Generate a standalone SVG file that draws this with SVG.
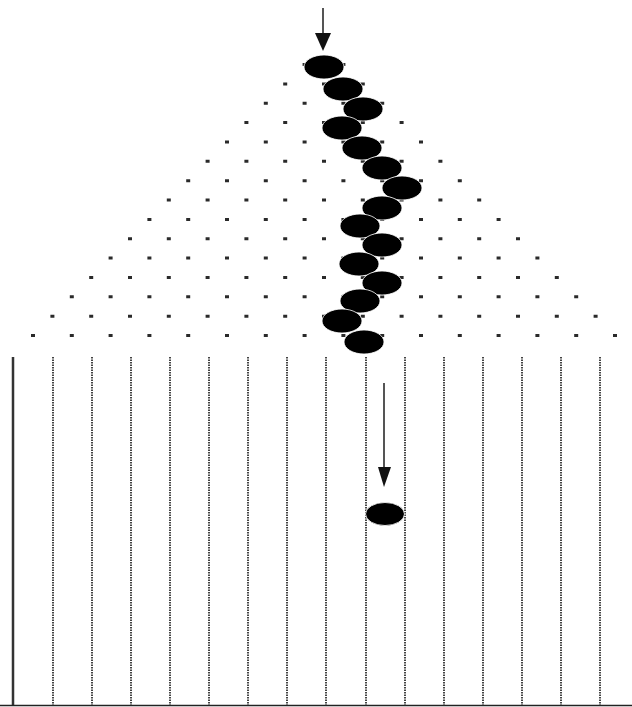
<svg xmlns="http://www.w3.org/2000/svg" width="632" height="707" viewBox="0 0 632 707">
<defs>
<style>
.row{stroke:#2a2a2a;stroke-width:3;stroke-dasharray:4 34.8;fill:none}
.ball{fill:#000;stroke:#fff;stroke-width:0.8}
.bin{stroke:#444;stroke-width:2;stroke-dasharray:1.5 1;fill:none}
.shaft{stroke:#555;stroke-width:2;fill:none}
.head{fill:#111}
</style>
</defs>
<rect width="632" height="707" fill="#fff"/>
<g id="pegs">
<path class="row" d="M302.6 64.5H345.4"/>
<path class="row" d="M283.2 83.9H364.8"/>
<path class="row" d="M263.8 103.2H384.2"/>
<path class="row" d="M244.4 122.6H403.6"/>
<path class="row" d="M225 141.9H423"/>
<path class="row" d="M205.6 161.3H442.4"/>
<path class="row" d="M186.2 180.7H461.8"/>
<path class="row" d="M166.8 200H481.2"/>
<path class="row" d="M147.4 219.4H500.6"/>
<path class="row" d="M128 238.7H520"/>
<path class="row" d="M108.6 258.1H539.4"/>
<path class="row" d="M89.2 277.5H558.8"/>
<path class="row" d="M69.8 296.8H578.2"/>
<path class="row" d="M50.4 316.2H597.6"/>
<path class="row" d="M31 335.5H617"/>
</g>
<g id="bins">
<line x1="13" y1="357" x2="13" y2="706" stroke="#333" stroke-width="2.5"/>
<line class="bin" x1="53" y1="357" x2="53" y2="706"/>
<line class="bin" x1="92" y1="357" x2="92" y2="706"/>
<line class="bin" x1="131" y1="357" x2="131" y2="706"/>
<line class="bin" x1="170" y1="357" x2="170" y2="706"/>
<line class="bin" x1="209" y1="357" x2="209" y2="706"/>
<line class="bin" x1="248" y1="357" x2="248" y2="706"/>
<line class="bin" x1="287" y1="357" x2="287" y2="706"/>
<line class="bin" x1="326" y1="357" x2="326" y2="706"/>
<line class="bin" x1="366" y1="357" x2="366" y2="706"/>
<line class="bin" x1="405" y1="357" x2="405" y2="706"/>
<line class="bin" x1="444" y1="357" x2="444" y2="706"/>
<line class="bin" x1="483" y1="357" x2="483" y2="706"/>
<line class="bin" x1="522" y1="357" x2="522" y2="706"/>
<line class="bin" x1="561" y1="357" x2="561" y2="706"/>
<line class="bin" x1="600" y1="357" x2="600" y2="706"/>
<line x1="0" y1="705.5" x2="632" y2="705.5" stroke="#222" stroke-width="1.5"/>
</g>
<g id="path-balls">
<ellipse class="ball" cx="324" cy="67" rx="20" ry="12"/>
<ellipse class="ball" cx="343" cy="89" rx="20" ry="12"/>
<ellipse class="ball" cx="363" cy="109" rx="20" ry="12"/>
<ellipse class="ball" cx="342" cy="128" rx="20" ry="12"/>
<ellipse class="ball" cx="362" cy="148" rx="20" ry="12"/>
<ellipse class="ball" cx="382" cy="168" rx="20" ry="12"/>
<ellipse class="ball" cx="402" cy="188" rx="20" ry="12"/>
<ellipse class="ball" cx="382" cy="208" rx="20" ry="12"/>
<ellipse class="ball" cx="360" cy="226" rx="20" ry="12"/>
<ellipse class="ball" cx="382" cy="245" rx="20" ry="12"/>
<ellipse class="ball" cx="359" cy="264" rx="20" ry="12"/>
<ellipse class="ball" cx="382" cy="283" rx="20" ry="12"/>
<ellipse class="ball" cx="360" cy="301" rx="20" ry="12"/>
<ellipse class="ball" cx="342" cy="321" rx="20" ry="12"/>
<ellipse class="ball" cx="364" cy="342" rx="20" ry="12"/>
</g>
<g id="fallen-ball">
<ellipse class="ball" cx="385" cy="514" rx="19.5" ry="11.5"/>
</g>
<g id="arrows">
<line class="shaft" x1="323" y1="8" x2="323" y2="36"/>
<polygon class="head" points="315,33 331,33 323,51"/>
<line class="shaft" x1="384" y1="383" x2="384" y2="470"/>
<polygon class="head" points="378,467 391,467 384,487"/>
</g>
</svg>
